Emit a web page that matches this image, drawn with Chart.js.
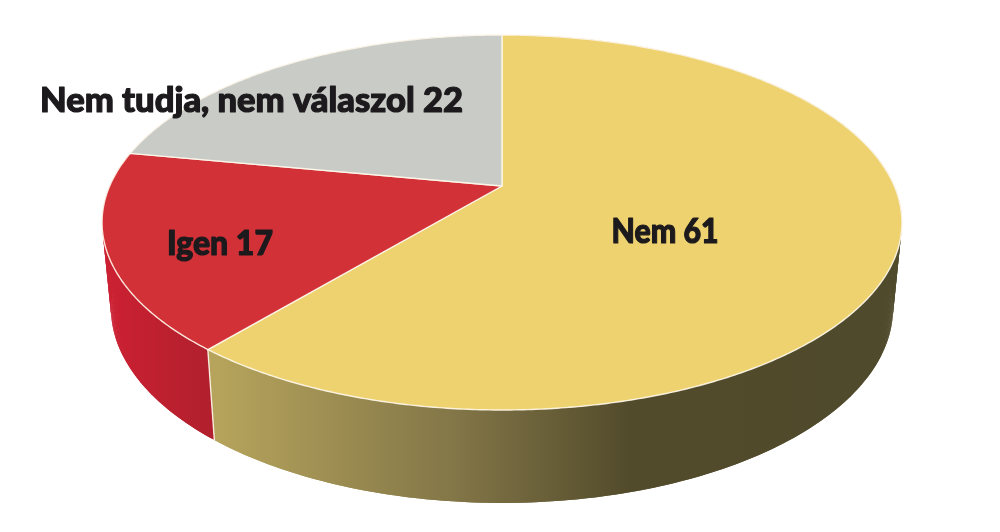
<!DOCTYPE html>
<html lang="hu">
<head>
    <meta charset="UTF-8">
    <title>Nem tudja, nem válaszol</title>
    <script src="https://cdn.jsdelivr.net/npm/chart.js"></script>
    <style>
        body { margin: 0; background: #fff; }
        canvas { display: block; }
    </style>
</head>
<body>
    <canvas id="chartCanvas" width="1000" height="532"></canvas>

    <script>
        var categories = ['Nem', 'Igen', 'Nem tudja, nem válaszol'];
        var values = [61, 17, 22];
        var topColors = ['#eed26f', '#d23138', '#c9cbc7'];

        // side wall shading, left to right
        var wallStops = [
            [[216, '#b6a45c'], [450, '#847748'], [630, '#524b2b'], [900, '#4f4a2c']],
            [[110, '#cb2032'], [216, '#b0202d']],
            [[100, '#a9aba7'], [500, '#a9aba7']]
        ];
        var labelSpots = [
            { x: 665, y: 243, w: 107 },
            { x: 220, y: 255, w: 106 },
            { x: 251.5, y: 112, w: 423 }
        ];

        // perspective of the disc: k shortens the far side
        var topFace = { rx: 392.3, ry: 180.4, k: 0.1946, dy: 0 };
        var bottomFace = { rx: 383.6, ry: 187.6, k: 0.1946, dy: 84 };

        function project(arc, face, angle, frac) {
            var u = Math.cos(angle) * frac;
            var v = -Math.sin(angle) * frac;
            var d = 1 + face.k * v;
            return { x: arc.x + face.rx * u / d, y: arc.y + face.dy - face.ry * v / d };
        }

        function wallGradient(ctx, stops) {
            var x0 = stops[0][0], x1 = stops[stops.length - 1][0];
            var g = ctx.createLinearGradient(x0, 0, x1, 0);
            stops.forEach(function(s) {
                g.addColorStop((s[0] - x0) / (x1 - x0), s[1]);
            });
            return g;
        }

        var pie3d = {
            id: 'pie3d',
            beforeDatasetsDraw: function(chart) {
                var ctx = chart.ctx;
                var arcs = chart.getDatasetMeta(0).data;
                var step = Math.PI / 360;
                ctx.save();

                // walls, back slices first
                [2, 1, 0].forEach(function(i) {
                    var arc = arcs[i];
                    ctx.fillStyle = wallGradient(ctx, wallStops[i]);
                    for (var a = arc.startAngle; a < arc.endAngle; a += step) {
                        var b = Math.min(a + 2 * step, arc.endAngle);
                        var p = [
                            project(arc, topFace, a, 1),
                            project(arc, topFace, b, 1),
                            project(arc, bottomFace, b, 1),
                            project(arc, bottomFace, a, 1)
                        ];
                        ctx.beginPath();
                        ctx.moveTo(p[0].x, p[0].y);
                        ctx.lineTo(p[1].x, p[1].y);
                        ctx.lineTo(p[2].x, p[2].y);
                        ctx.lineTo(p[3].x, p[3].y);
                        ctx.closePath();
                        ctx.fill();
                    }
                });

                // seam on the wall between red and yellow
                var seam = arcs[0].endAngle;
                var s0 = project(arcs[0], topFace, seam, 1);
                var s1 = project(arcs[0], bottomFace, seam, 1);
                ctx.strokeStyle = 'rgba(255,245,235,0.9)';
                ctx.lineWidth = 1.4;
                ctx.beginPath();
                ctx.moveTo(s0.x, s0.y);
                ctx.lineTo(s1.x, s1.y);
                ctx.stroke();

                // top faces
                arcs.forEach(function(arc) {
                    ctx.beginPath();
                    ctx.moveTo(arc.x, arc.y);
                    for (var a = arc.startAngle; a < arc.endAngle; a += step) {
                        var p = project(arc, topFace, a, 1);
                        ctx.lineTo(p.x, p.y);
                    }
                    var e = project(arc, topFace, arc.endAngle, 1);
                    ctx.lineTo(e.x, e.y);
                    ctx.closePath();
                    ctx.fillStyle = arc.options.backgroundColor;
                    ctx.fill();
                    ctx.strokeStyle = arc.options.borderColor;
                    ctx.lineWidth = arc.options.borderWidth;
                    ctx.lineJoin = 'round';
                    ctx.stroke();
                });

                // labels, stroked a little to get the black weight
                ctx.fillStyle = '#1c1a1c';
                ctx.strokeStyle = '#1c1a1c';
                ctx.lineWidth = 1.2;
                ctx.font = '900 35px Lato';
                ctx.textAlign = 'center';
                ctx.textBaseline = 'alphabetic';
                chart.data.labels.forEach(function(name, i) {
                    var spot = labelSpots[i];
                    ctx.fillText(name + ' ' + values[i], spot.x, spot.y, spot.w);
                    ctx.strokeText(name + ' ' + values[i], spot.x, spot.y, spot.w);
                });

                ctx.restore();
                return false;
            }
        };

        var myChart = new Chart(document.getElementById('chartCanvas').getContext('2d'), {
            type: 'pie',
            data: {
                labels: categories,
                datasets: [{
                    data: values,
                    backgroundColor: topColors,
                    borderColor: 'rgba(255,248,235,0.9)',
                    borderWidth: 1.4
                }]
            },
            options: {
                responsive: false,
                animation: false,
                rotation: 0,
                layout: { padding: { left: 4, bottom: 160 } },
                plugins: { legend: { display: false }, tooltip: { enabled: false } }
            },
            plugins: [pie3d]
        });
    </script>
</body>
</html>
